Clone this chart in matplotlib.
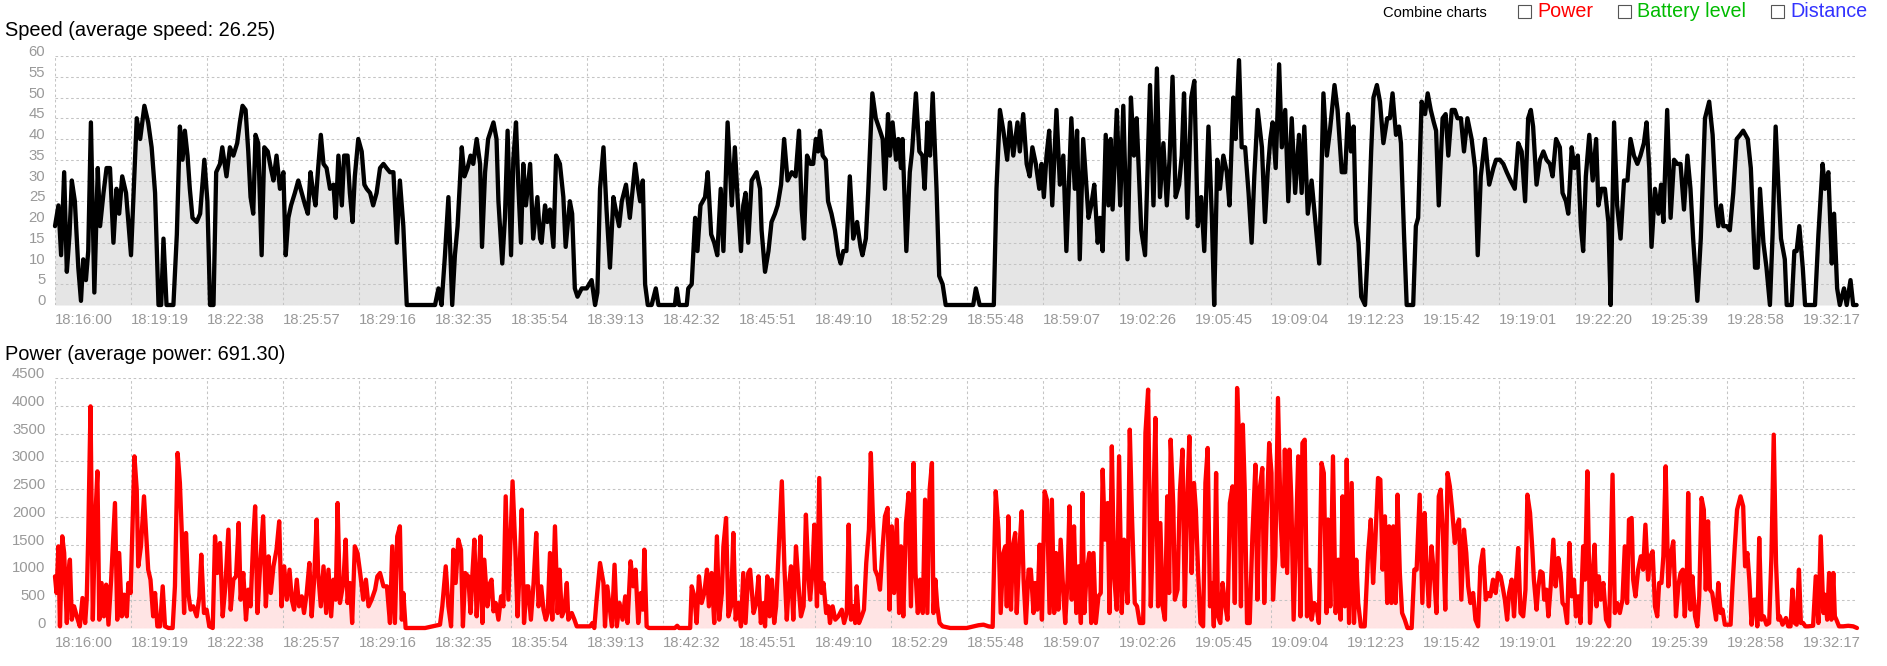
#!/usr/bin/env python
"""
E-bike ride log: speed and power over time, drawn as two stacked area charts.
"""

import datetime as dt
import matplotlib
matplotlib.use("Agg")
import matplotlib.pyplot as plt
import numpy as np
from matplotlib.patches import Rectangle

plt.rcParams["font.family"] = ["Liberation Sans", "DejaVu Sans"]

# --- ride data (seconds since 18:16:00, value) ---
RIDE_START = dt.datetime(2000, 1, 1, 18, 16, 0)
TICK_STEP = 199          # seconds between axis labels
N_TICKS = 24
RIDE_END = 4718

speed_avg = 26.25
power_avg = 691.30

speed_log = [
    (0,19),(9,24),(16,12),(24,32),(31,8),(38,17),(44,30),(52,25),(61,9),(68,1),(74,11),(81,6),(87,13),(94,44),
    (103,3),(112,33),(118,19),(127,27),(135,33),(144,33),(153,15),(161,28),(168,22),(176,31),(186,27),(192,20),
    (199,12),(205,25),(214,45),(223,40),(234,48),(244,44),(253,38),(262,27),(271,0),(278,0),(284,16),(292,0),
    (310,0),(319,17),(327,43),(334,35),(340,42),(347,36),(353,28),(360,21),(371,20),(380,22),(391,35),(399,25),
    (406,0),(415,0),(422,32),(432,34),(438,38),(449,31),(458,38),(467,36),(477,39),(484,44),(491,48),(499,47),
    (506,37),(512,26),(519,22),(525,41),(532,39),(541,12),(548,38),(557,37),(565,33),(572,30),(580,36),(589,28),
    (598,32),(604,12),(611,21),(618,24),(628,27),(637,30),(646,27),(655,24),(662,22),(669,32),(676,27),(682,24),
    (689,33),(696,41),(703,34),(711,33),(720,28),(729,29),(735,21),(742,36),(751,24),(757,36),(766,36),(772,27),
    (779,20),(785,31),(794,40),(803,37),(810,29),(816,28),(825,27),(833,24),(842,27),(851,33),(860,34),(868,33),
    (877,32),(886,32),(895,15),(903,30),(912,19),(921,0),(995,0),(1004,4),(1012,0),(1021,12),(1030,26),(1040,0),
    (1047,12),(1054,19),(1065,38),(1072,31),(1080,33),(1088,36),(1095,34),(1104,40),(1113,34),(1118,14),(1126,32),
    (1134,40),(1148,44),(1156,40),
    (1161,25),(1171,10),(1178,21),(1185,42),(1194,12),(1200,35),(1207,44),(1213,29),(1220,15),(1226,34),(1233,24),
    (1244,34),(1252,16),(1263,26),(1270,16),(1274,15),(1283,24),(1289,20),(1296,23),(1305,14),(1312,36),(1322,34),
    (1331,26),(1337,14),(1348,25),(1354,22),(1361,4),(1368,2),(1379,4),(1392,4),(1405,6),(1414,0),(1420,3),
    (1427,28),(1436,38),(1444,23),(1453,9),(1462,26),(1468,23),(1477,19),(1484,25),(1495,29),(1505,21),(1519,34),
    (1527,28),(1532,25),(1539,30),(1545,5),(1552,0),(1562,0),(1573,4),(1580,0),(1623,0),(1628,4),(1634,0),
    (1654,0),(1658,4),(1667,5),(1676,21),(1682,13),(1690,24),(1702,26),(1709,32),(1718,17),(1726,15),(1734,12),
    (1743,28),(1750,13),(1761,44),(1772,24),(1780,38),(1787,26),(1796,13),(1802,24),(1808,27),(1815,15),(1824,30),
    (1837,32),(1846,28),(1850,18),(1859,8),(1868,13),(1876,20),(1885,22),(1892,24),(1901,29),(1909,40),(1918,30),
    (1929,32),
    (1939,31),(1948,42),(1955,23),(1961,16),(1969,36),(1978,34),(1985,34),(1992,40),(1998,37),(2003,42),(2010,36),
    (2018,35),(2024,25),(2033,22),(2042,18),(2051,12),(2057,10),(2064,13),(2072,13),(2081,31),(2090,16),(2100,20),
    (2109,14),(2114,12),(2123,16),(2129,27),(2140,51),(2149,45),(2160,42),(2167,40),(2173,28),(2181,46),(2186,36),
    (2193,44),(2202,35),(2208,40),(2215,33),(2219,40),(2229,13),(2238,32),(2244,37),(2254,51),(2263,37),(2271,36),
    (2277,28),(2284,44),(2291,36),(2298,51),(2308,28),(2315,7),(2324,5),(2332,0),(2404,0),(2411,4),(2421,0),
    (2458,0),(2465,28),(2474,47),(2483,42),(2493,35),(2500,44),(2509,36),(2520,44),(2526,37),(2535,46),(2544,34),
    (2552,31),(2559,38),(2568,34),(2577,28),(2583,34),(2589,26),(2596,36),(2603,42),(2611,24),(2622,47),(2631,29),
    (2640,36),(2648,13),(2661,45),(2670,28),(2676,42),(2683,11),(2692,40),
    (2706,21),(2713,24),(2721,29),(2730,15),(2736,21),(2743,13),(2751,41),(2758,24),(2764,40),(2769,23),(2780,47),
    (2789,24),(2797,48),(2808,11),(2817,50),(2825,36),(2832,45),(2844,18),(2854,12),(2867,53),(2876,24),(2885,57),
    (2893,26),(2902,39),(2911,24),(2918,35),(2926,55),(2934,26),(2943,29),(2950,36),(2956,51),(2965,21),(2975,50),
    (2983,54),(2992,19),(3001,26),(3009,13),(3020,43),(3029,21),(3035,0),(3043,35),(3050,28),(3059,36),(3068,32),
    (3075,24),(3085,50),(3091,40),(3100,59),(3107,38),(3116,38),(3125,27),(3133,15),(3140,31),(3149,47),(3160,38),
    (3168,20),(3175,32),(3182,40),(3188,44),(3196,33),(3205,58),(3212,38),(3221,47),(3229,25),(3238,45),(3247,27),
    (3257,41),(3264,27),(3271,43),(3280,22),(3290,30),(3304,16),(3310,10),(3321,51),(3330,36),(3338,42),(3350,53),
    (3358,47),(3369,32),(3378,32),(3385,46),(3393,37),(3400,43),(3406,20),(3413,15),(3420,2),(3430,0),(3437,13),
    (3446,37),(3452,50),(3461,53),(3469,49),
    (3478,39),(3488,45),(3495,45),(3502,51),(3511,41),(3519,43),(3524,39),(3532,17),(3539,0),(3556,0),(3563,19),
    (3569,21),(3578,49),(3587,46),(3594,51),(3602,47),(3610,44),(3616,42),(3623,24),(3633,45),(3641,46),(3648,36),
    (3657,47),(3665,47),(3672,45),(3681,45),(3689,37),(3698,45),(3709,40),(3718,33),(3725,12),(3733,31),(3744,40),
    (3755,29),(3766,33),(3773,35),(3783,35),(3792,34),(3801,32),(3811,30),(3822,28),(3831,39),(3840,37),(3849,25),
    (3857,45),(3864,47),(3870,43),(3879,29),(3888,35),(3897,37),(3905,35),(3914,34),(3921,31),(3930,40),(3940,38),
    (3947,27),(3956,25),(3962,22),(3971,38),(3978,33),(3987,36),(3995,19),(4001,13),(4008,31),(4017,41),(4026,30),
    (4035,40),(4041,24),(4049,28),(4058,28),(4067,20),(4073,0),(4082,44),(4090,24),(4099,16),(4108,30),(4117,30),
    (4125,40),(4134,36),(4143,34),(4151,36),(4160,39),(4167,44),(4174,33),(4180,14),(4189,28),(4198,22),(4205,29),
    (4211,20),(4221,47),(4230,21),(4239,35),(4247,34),(4256,34),(4265,23),(4274,36),(4282,28),(4289,16),(4300,1),
    (4309,16),(4320,45),(4331,49),(4340,41),(4349,24),(4355,19),(4362,24),(4368,19),(4377,19),(4385,18),(4394,27),
    (4403,40),(4412,41),(4420,42),(4432,40),(4440,33),(4451,9),(4458,9),(4464,28),(4473,15),(4481,9),(4490,0),
    (4497,17),(4505,43),(4512,29),(4519,16),(4529,11),(4534,0),(4547,0),(4554,13),(4560,13),(4567,19),(4576,9),
    (4582,0),(4608,0),(4617,17),(4628,34),(4634,28),(4643,32),(4652,10),(4658,22),(4666,4),(4673,0),(4684,4),
    (4691,0),(4701,6),(4708,0),(4717,0),
]

power_log = [
    (0,930),(4,630),(9,1470),(13,30),(19,1650),(24,1350),(31,90),(35,990),(39,1230),(44,150),(50,390),(57,210),
    (65,30),(72,540),(79,90),(83,510),(87,1650),(93,3990),(99,150),(105,1890),(111,2820),(116,150),(122,810),
    (128,210),(134,780),(140,60),(147,870),(157,2250),(163,150),(168,1350),(175,210),(181,600),(188,210),(192,810),
    (198,630),(202,1590),(208,3090),(214,2490),(218,1110),(225,1470),(233,2370),(240,1530),(244,1050),(250,870),
    (257,210),(262,630),(268,30),(275,30),(282,750),(288,30),(297,0),(308,0),(314,750),(321,3150),(327,2610),
    (332,1710),(338,270),(343,1710),(349,630),(355,330),(362,390),(371,210),(378,570),(383,1320),(390,270),
    (397,330),(404,30),(413,0),(419,1650),(425,990),(432,1530),(439,210),(446,750),(454,1770),(460,330),(467,870),
    (474,930),(481,1890),(486,510),(493,990),(500,150),(506,690),(512,390),(519,1590),(524,2190),(530,270),
    (537,1110),(545,2010),(552,390),(559,1290),(565,630),(572,1110),(580,1410),(587,1920),(593,390),(600,1110),
    (607,510),(614,1050),(620,510),(626,330),(633,870),(639,390),(646,570),(652,270),(659,630),(666,1170),
    (672,210),(678,810),(685,1950),(689,990),(696,390),(703,1110),(710,270),(716,1050),(723,210),(729,870),
    (735,510),(740,2250),(746,450),(755,810),(761,1590),(766,450),(772,810),(778,90),(785,1470),(792,1350),
    (799,990),(807,510),(814,870),(821,390),(829,510),(838,690),(844,930),(851,990),
    (860,750),(869,750),(877,90),(883,1470),(890,90),(896,1650),(903,1830),(908,150),(912,630),(918,0),(969,0),
    (1008,60),(1014,390),(1023,1110),(1030,390),(1037,30),(1043,1410),(1049,810),(1056,1590),(1063,1410),
    (1068,30),(1074,990),(1082,930),(1088,270),(1093,990),(1098,1590),(1104,210),(1109,810),(1114,1650),
    (1119,90),(1124,1230),(1132,390),(1139,810),(1143,870),(1148,300),(1154,450),(1161,150),(1168,570),
    (1174,390),(1180,2370),(1187,510),(1193,1650),(1198,2640),(1205,1470),(1211,210),(1216,990),(1222,2130),
    (1228,90),(1235,750),(1239,750),(1246,150),(1253,810),(1260,1710),(1266,390),(1273,750),(1279,330),
    (1285,150),(1290,270),(1296,1350),(1302,150),(1309,1830),(1316,270),(1321,1050),(1327,210),(1334,330),
    (1340,810),(1344,150),(1353,270),(1360,150),(1366,30),(1401,30),(1407,90),(1412,0),(1418,510),(1427,1170),
    (1436,810),(1440,30),(1446,750),(1452,390),(1458,30),(1465,1140),(1471,30),(1478,450),(1486,150),(1493,570),
    (1499,90),(1507,1200),(1514,750),(1520,1050),(1527,90),(1534,630),(1539,330),(1543,1410),(1549,30),
    (1555,0),(1623,0),(1629,40),(1634,0),(1663,0),(1667,750),(1674,570),(1680,90),(1686,930),(1693,450),
    (1700,630),(1707,1050),(1712,390),(1719,990),(1726,90),(1733,1650),(1739,150),(1746,630),(1750,1470),
    (1757,1980),(1763,210),(1770,390),(1776,1710),(1782,150),(1789,450),(1796,30),(1802,990),(1808,90),(1815,990),
    (1820,1050),(1829,270),(1836,450),(1842,930),(1848,90),(1855,450),(1859,30),(1865,930),(1871,210),(1877,870),
    (1883,90),(1888,390),(1894,1290),(1903,2640),(1910,1050),(1916,150),(1920,630),(1927,1110),(1933,150),
    (1940,1470),(1947,750),(1953,210),(1960,390),(1966,2040),(1973,870),(1977,510),(1983,990),(1988,1860),
    (1995,390),(2001,2700),(2007,630),(2012,810),(2019,270),(2025,390),(2029,90),(2036,390),(2043,150),
    (2051,210),(2060,330),(2066,90),(2073,270),(2078,1860),(2084,150),(2091,390),(2095,90),(2099,750),(2105,90),
    (2112,210),(2118,330),(2124,1170),(2131,1770),(2136,3150),(2141,2070),(2147,1050),(2154,930),(2160,690),
    (2167,1470),(2173,2010),(2180,2160),(2185,330),(2191,1830),(2197,630),(2204,1950),(2210,270),(2215,1470),
    (2221,210),(2228,1890),(2235,2430),(2241,390),(2248,2970),(2253,990),(2259,270),(2265,870),(2272,270),
    (2278,2310),(2284,270),(2290,2490),(2296,2970),(2300,270),(2305,870),(2310,390),(2316,90),(2324,30),
    (2344,0),(2387,0),(2405,30),(2418,50),(2431,60),(2444,30),(2455,20),(2463,2460),(2470,1770),(2476,270),
    (2483,1350),(2488,1470),(2492,390),(2496,2010),(2503,330),(2508,1470),(2514,1710),(2518,270),(2525,1410),
    (2531,2100),(2536,870),(2542,90),(2549,1050),(2555,1050),(2562,270),(2566,810),(2572,330),(2578,1500),
    (2584,150),(2591,2460),(2597,2310),(2604,270),(2610,2310),(2616,270),(2621,1350),(2627,330),(2633,1590),
    (2640,630),(2645,90),(2651,870),(2656,2190),(2662,510),(2668,1830),(2674,270),(2680,1110),(2686,90),
    (2690,2430),(2695,270),(2701,990),(2708,1350),(2713,90),(2719,1350),(2725,90),(2732,570),(2738,630),
    (2743,2850),(2749,1590),(2756,2250),(2761,270),(2767,3270),(2773,930),(2780,330),(2786,3090),(2793,270),
    (2799,1590),
    (2808,450),(2814,3570),(2820,1950),(2827,450),(2833,390),(2840,90),(2849,90),(2855,3510),(2862,4290),
    (2869,390),(2875,1890),(2881,3780),(2888,390),(2894,1890),(2900,390),(2906,150),(2912,2370),(2917,630),
    (2921,3390),(2928,2190),(2932,510),(2939,690),(2945,2430),(2952,3210),(2958,390),(2964,2250),(2970,3450),
    (2976,990),(2982,2610),(2987,2130),(2993,990),(2999,90),(3006,30),(3012,2610),(3018,3240),(3024,390),
    (3030,810),(3034,30),(3040,2790),(3045,210),(3051,90),(3057,810),(3063,450),(3070,150),(3076,2250),
    (3083,2550),(3089,450),(3095,4320),(3100,3450),(3105,390),(3110,3660),(3115,2490),(3121,90),(3128,90),
    (3135,1650),(3143,2940),(3148,510),(3154,2490),(3161,2880),(3166,450),(3172,1950),(3179,3330),(3185,2790),
    (3189,510),(3195,1290),(3202,4140),(3209,1950),(3215,1110),(3220,3210),(3226,990),(3232,3210),(3237,2310),
    (3243,150),(3250,1830),(3255,3090),(3261,210),(3266,3330),(3272,3390),(3278,210),(3284,1050),(3290,150),
    (3297,450),(3303,390),(3309,90),(3316,2970),(3322,2790),(3329,270),(3333,1950),(3339,390),(3346,3090),
    (3353,270),(3360,1230),(3366,150),(3371,2370),(3377,390),(3382,3030),(3388,90),(3395,2610),(3401,90),
    (3407,1230),(3412,450),(3419,30),(3429,30),(3438,1350),(3445,1950),(3451,810),(3457,1590),(3464,2700),
    (3470,2670),(3476,1050),(3482,2010),(3488,450),(3493,1830),(3499,450),(3504,1830),(3510,450),(3515,2400),
    (3521,990),(3527,270),(3534,150),(3541,0),(3552,0),(3559,1050),(3565,1050),(3573,2400),(3580,450),
    (3586,2070),(3591,1110),(3597,390),(3604,1470),(3611,930),(3617,270),(3623,2370),(3628,2490),(3634,1650),
    (3640,330),(3646,2790),(3652,2550),(3658,2130),(3665,1530),(3671,1830),(3676,1950),(3682,510),(3689,1770),
    (3695,1350),(3700,750),(3706,450),(3713,630),(3719,150),(3726,30),(3732,1110),(3739,1410),(3746,510),
    (3752,630),(3758,570),(3765,870),(3772,630),(3778,990),(3785,930),
    (3790,750),(3796,510),(3802,150),(3807,630),(3814,870),(3820,210),(3825,810),(3831,1440),(3837,270),
    (3844,210),(3850,690),(3855,2400),(3862,2070),(3868,1410),(3872,870),(3879,330),(3883,690),(3889,1020),
    (3895,990),(3899,510),(3905,690),(3910,210),(3916,750),(3923,1590),(3929,750),(3936,1260),(3942,990),
    (3947,450),(3953,390),(3959,90),(3965,1530),(3971,570),(3977,870),(3982,210),(3988,570),(3994,90),
    (4001,1470),(4006,870),(4012,2820),(4019,90),(4025,870),(4031,1500),(4036,390),(4042,930),(4047,510),
    (4054,810),(4061,150),(4069,30),(4078,2760),(4084,270),(4090,450),(4097,270),(4104,510),(4110,1470),
    (4116,450),(4121,1950),(4128,1980),(4132,870),(4138,570),(4145,1050),(4152,1290),(4158,1050),(4164,1860),
    (4171,870),(4177,1290),(4183,1380),(4189,390),(4195,210),(4200,810),(4206,810),(4211,1290),(4217,2910),
    (4224,750),(4230,1290),(4237,1560),(4244,210),(4250,750),(4256,990),(4262,1050),(4267,210),(4272,750),
    (4276,2430),(4282,330),(4287,930),(4294,210),(4300,30),(4305,570),(4311,2340),(4317,2130),(4322,690),
    (4328,1920),(4333,690),(4339,630),(4344,390),(4349,150),(4355,810),(4361,270),(4366,330),(4372,60),
    (4381,60),(4387,60),(4392,750),(4398,1470),(4404,2130),(4413,2370),(4420,2190),(4425,1110),(4431,1350),
    (4436,870),(4442,60),(4448,510),(4453,510),(4457,30),(4462,1620),(4468,150),(4474,210),(4481,60),(4488,90),
    (4494,1290),(4500,3480),(4506,1170),(4512,150),(4516,210),(4523,60),(4532,180),(4538,30),(4544,30),
    (4549,690),(4555,90),(4560,60),(4566,1050),(4571,90),(4577,90),(4583,30),(4590,30),(4603,40),(4610,930),
    (4617,90),(4623,1650),(4630,270),(4634,600),(4640,150),(4645,990),(4651,150),(4656,990),(4660,210),
    (4664,150),(4671,30),(4682,30),(4695,40),(4708,30),(4718,0),
]

W, H = 1887, 666
GRID = "#c4c4c4"
LABEL = "#999999"


def px_rect(left, top, right, bottom):
    # figure-fraction rect from pixel box
    return [left / W, 1 - bottom / H, (right - left) / W, (bottom - top) / H]


def draw_panel(ax, log, line_color, fill_color, ymax, ystep):
    t, v = np.array(log, dtype=float).T
    ax.fill_between(t, v, 0, color=fill_color, lw=0, zorder=1)
    ax.plot(t, v, color=line_color, lw=3.1, solid_joinstyle="round",
            solid_capstyle="round", zorder=3, clip_on=False)
    ax.set_xlim(0, RIDE_END)
    ax.set_ylim(0, ymax)

    xt = np.arange(N_TICKS) * TICK_STEP
    ax.set_xticks(xt)
    ax.set_xticklabels([(RIDE_START + dt.timedelta(seconds=int(s))).strftime("%H:%M:%S") for s in xt],
                       ha="left")
    yt = np.arange(0, ymax + 1, ystep)
    ax.set_yticks(yt)
    ax.set_yticklabels([str(y) for y in yt], va="baseline")

    ax.grid(True, color=GRID, ls=(0, (2.5, 2.5)), lw=0.75)
    ax.set_axisbelow("line")
    for s in ax.spines.values():
        s.set_visible(False)
    ax.tick_params(length=0, labelcolor=LABEL, labelsize=10.7)
    ax.tick_params(axis="x", pad=6)
    ax.tick_params(axis="y", pad=7)


def main():
    fig = plt.figure(figsize=(W / 100, H / 100), dpi=100)

    ax_speed = fig.add_axes(px_rect(55, 56, 1857, 305))
    draw_panel(ax_speed, speed_log, "black", "#e5e5e5", 60, 5)
    fig.text(5 / W, 1 - 36 / H, f"Speed (average speed: {speed_avg:.2f})", fontsize=14.4, va="baseline")

    ax_power = fig.add_axes(px_rect(55, 378, 1857, 628))
    draw_panel(ax_power, power_log, "#ff0000", "#ffe4e4", 4500, 500)
    fig.text(5 / W, 1 - 360 / H, f"Power (average power: {power_avg:.2f})", fontsize=14.4, va="baseline")

    # --- header with the "combine charts" toggles ---
    fig.text(1383 / W, 1 - 17 / H, "Combine charts", fontsize=10.6, va="baseline")
    toggles = [("Power", "#ff0000", 1518), ("Battery level", "#00bb00", 1618), ("Distance", "#3333ff", 1771)]
    for name, color, x in toggles:
        fig.patches.append(Rectangle((x / W, 1 - 18 / H), 13 / W, 13 / H, transform=fig.transFigure,
                                     fc="white", ec="#555555", lw=0.8))
        fig.text((x + 19) / W, 1 - 17 / H, name, fontsize=14.2, color=color, va="baseline")

    fig.savefig("out.png", dpi=100)
    plt.close(fig)


if __name__ == "__main__":
    main()
